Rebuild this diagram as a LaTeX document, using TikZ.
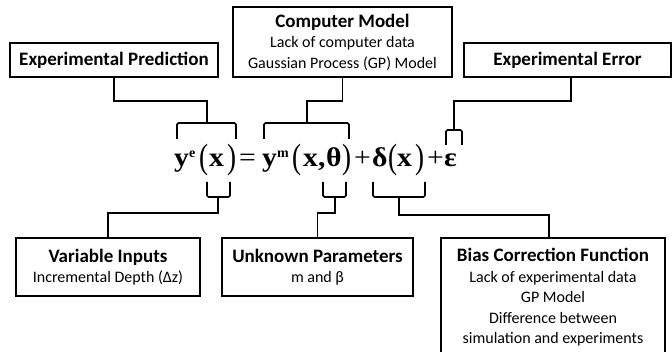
\documentclass[tikz,border=0pt]{standalone}
\usepackage{fontspec}
\usepackage{graphicx}
\setmainfont{Carlito}
\newfontfamily\eqfont{Liberation Serif}

% stretched parentheses and slightly widened symbols for the equation
\newcommand\tallpar[1]{\raisebox{-1.8pt}{\scalebox{1}[1.3]{#1}}}
\newcommand\wideg[1]{\scalebox{1.1}[1]{#1}}
\newcommand\supx[1]{\raisebox{9pt}{\fontsize{14}{14}\selectfont\bfseries #1}}
\newcommand\ttl[1]{{\fontsize{19}{20.5}\selectfont\bfseries #1}}

\tikzset{
  box/.style={draw, line width=1.6pt, inner sep=0pt, align=center,
              font=\fontsize{16}{20.5}\selectfont},
  link/.style={line width=1.6pt},
  brace/.style={line width=1.6pt, rounded corners=1.5pt},
  eqp/.style={inner sep=0pt, anchor=base west,
              font=\eqfont\fontsize{27}{27}\selectfont}
}

\begin{document}
\begin{tikzpicture}[x=1pt, y=-1pt]
  \useasboundingbox (0,0) rectangle (672,352);
  \fill[white] (0,0) rectangle (672,352);
  \clip (0,0) rectangle (672,352);

  % description boxes
  \node[box, minimum width=208, minimum height=34] (ep) at (114,60)
    {\ttl{Experimental Prediction}};
  \node[box, minimum width=219, minimum height=70] (cm) at (342.5,42)
    {\ttl{Computer Model}\\ Lack of computer data\\ Gaussian Process (GP) Model};
  \node[box, minimum width=207, minimum height=34] (ee) at (567.5,60)
    {\ttl{Experimental Error}};
  \node[box, minimum width=184, minimum height=58] (vi) at (108,267)
    {\ttl{Variable Inputs}\\ Incremental Depth (Δz)};
  \node[box, minimum width=191, minimum height=58] (up) at (317.5,267)
    {\ttl{Unknown Parameters}\\ m and β};
  \node[box, minimum width=224, minimum height=119] (bc) at (553,297.5)
    {\ttl{Bias Correction Function}\\ Lack of experimental data\\ GP Model\\
     Difference between\\ simulation and experiments};

  % the model equation, piece by piece
  \node[eqp] (ye)  at (174,167) {\wideg{\bfseries y}\supx{e}};
  \node[eqp] (lp1) at (199,167) {\tallpar{(}};
  \node[eqp] (x1)  at (209,167) {\wideg{\bfseries x}};
  \node[eqp] (rp1) at (227,167) {\tallpar{)}};
  \node[eqp] (eqs) at (239,167) {\wideg{=}};
  \node[eqp] (ym)  at (262,167) {\wideg{\bfseries y}\supx{m}};
  \node[eqp] (lp2) at (292,167) {\tallpar{(}};
  \node[eqp] (x2)  at (303,167) {\wideg{\bfseries x,}};
  \node[eqp] (th)  at (326,167) {\wideg{\bfseries θ}};
  \node[eqp] (rp2) at (342,167) {\tallpar{)}};
  \node[eqp] (pl1) at (354,167) {\wideg{+}};
  \node[eqp] (de)  at (372,167) {\wideg{\bfseries δ}};
  \node[eqp] (lp3) at (388,167) {\tallpar{(}};
  \node[eqp] (x3)  at (397,167) {\wideg{\bfseries x}};
  \node[eqp] (rp3) at (415,167) {\tallpar{)}};
  \node[eqp] (pl2) at (427,167) {\wideg{+}};
  \node[eqp] (eps) at (444,167) {\wideg{\bfseries ε}};

  % brackets over the terms
  \draw[brace] (177,139) |- (236,123) -- (236,139);
  \draw[brace] (264,139) |- (349,123) -- (349,139);
  \draw[brace] (446,145) |- (462,130) -- (462,145);
  % brackets under the terms
  \draw[brace] (207,182) |- (230,197) -- (230,182);
  \draw[brace] (323,182) |- (346,197) -- (346,182);
  \draw[brace] (373,182) |- (425,197) -- (425,182);

  % stem points of the brackets
  \coordinate (epk) at (207,123);
  \coordinate (cmk) at (307,123);
  \coordinate (eek) at (454,130);
  \coordinate (vik) at (218,197);
  \coordinate (upk) at (335,197);
  \coordinate (bck) at (399,197);

  % connectors
  \draw[link] (ep.south) -- ++(0,23) -| (epk);
  \draw[link] (cm.south) -- ++(0,23) -| (cmk);
  \draw[link] ([xshift=3.5]ee.south) -- ++(0,23) -| (eek);
  \draw[link] (vik) -- ++(0,16) -| (vi.north);
  \draw[link] (upk) -- ++(0,16) -| (up.north);
  \draw[link] (bck) -- ++(0,18) -| ([xshift=-4]bc.north);
\end{tikzpicture}
\end{document}
